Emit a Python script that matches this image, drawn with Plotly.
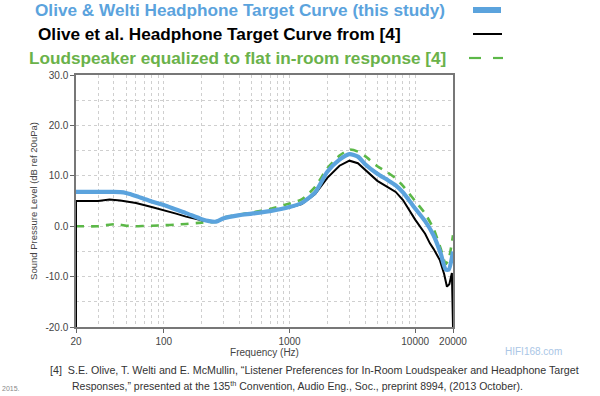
import plotly.graph_objects as go

# ---- data ----
freq = [20, 30, 40, 45, 50, 55, 60, 70, 80, 100, 125, 150, 200, 230, 260, 300, 400, 500, 700,
        1000, 1250, 1600, 2000, 2500, 3000, 3500, 4000, 5000, 6000, 7000, 8000,
        10000, 12000, 14000, 16000, 17500, 18500, 20000]

olive_welti = [6.8, 6.8, 6.8, 6.75, 6.6, 6.3, 6.0, 5.4, 4.9, 4.2, 3.3, 2.6, 1.4, 1.0, 0.9, 1.6, 2.2, 2.5, 3.0,
               3.8, 4.6, 6.7, 10.8, 13.2, 14.3, 13.8, 12.3, 10.4, 9.2, 8.1, 6.7,
               3.5, 1.0, -1.8, -5.5, -8.6, -8.6, -5.0]

black_freq = [20, 20, 30, 37, 45, 60, 80, 100, 125, 150, 200, 250, 300, 400, 500, 700,
              1000, 1250, 1600, 2000, 2500, 3000, 3500, 4000, 5000, 6000, 7000, 8000,
              10000, 12000, 13100, 14000, 15700, 17000, 17900, 18700, 19600, 20000]
olive_2013 = [-20.0, 5.0, 5.0, 5.3, 5.1, 4.6, 3.8, 3.2, 2.5, 1.9, 1.2, 0.85, 1.6, 2.2, 2.5, 3.0,
              3.7, 4.4, 6.4, 9.6, 12.0, 13.0, 12.5, 11.2, 9.0, 7.8, 6.8, 5.2,
              1.3, -1.5, -3.4, -4.5, -6.7, -9.5, -12.0, -11.5, -9.3, -20.0]

loudspeaker = [0.0, 0.0, 0.4, 0.3, 0.1, 0.05, 0.0, 0.05, 0.1, 0.2, 0.3, 0.45, 0.7, 0.8, 0.9, 1.7, 2.3, 2.7, 3.4,
               4.5, 5.3, 7.8, 11.5, 14.0, 15.2, 14.8, 13.9, 11.9, 10.7, 9.5, 8.0,
               5.0, 2.5, -0.5, -4.5, -7.5, -6.5, -1.8]

x_tick_vals = [20, 100, 1000, 10000, 20000]
x_tick_text = ["20", "100", "1000", "10000", "20000"]
y_tick_vals = [30, 20, 10, 0, -10, -20]
y_tick_text = ["30.0", "20.0", "10.0", "0.0", "-10.0", "-20.0"]

legend_labels = ["Olive & Welti Headphone Target Curve (this study)",
                 "Olive et al. Headphone Target Curve from [4]",
                 "Loudspeaker equalized to flat in-room response [4]"]

BLUE = "#5ba3dd"
BLACK = "#000000"
GREEN = "#5cb848"
GREEN_TXT = "#6ab24a"
GRID = "#cfcfcf"

W, H = 600, 396
L, R, T, B = 76, 453, 75, 327


def px(x):
    return (x - L) / (R - L)


def py(y):
    return (B - y) / (B - T)


fig = go.Figure()
fig.add_trace(go.Scatter(x=freq, y=loudspeaker, mode="lines",
                         line=dict(color=GREEN, width=2.6, dash="8px,7px", shape="spline", smoothing=0.6),
                         name=legend_labels[2], showlegend=False))
fig.add_trace(go.Scatter(x=black_freq, y=olive_2013, mode="lines",
                         line=dict(color=BLACK, width=2),
                         name=legend_labels[1], showlegend=False))
fig.add_trace(go.Scatter(x=freq, y=olive_welti, mode="lines",
                         line=dict(color=BLUE, width=4.2, shape="spline", smoothing=0.6),
                         name=legend_labels[0], showlegend=False))

# minor log gridlines
minor = []
for dec in [10, 100, 1000]:
    for m in range(2, 10):
        v = m * dec
        if 20 < v < 20000:
            minor.append(v)

fig.update_xaxes(type="log", range=[1.30103, 4.30103], automargin=False,
                 tickvals=x_tick_vals, ticktext=x_tick_text,
                 ticks="outside", ticklen=4, tickcolor="#666",
                 showgrid=True, gridcolor=GRID, griddash="dot", gridwidth=1, zeroline=False,
                 minor=dict(tickvals=minor, showgrid=True, gridcolor=GRID,
                            griddash="dot", gridwidth=1, ticks=""),
                 showline=True, linecolor="#777", linewidth=1.5, mirror=True,
                 tickfont=dict(family="Liberation Sans", size=10, color="#444"),
                 title=dict(text="Frequency (Hz)", standoff=0,
                            font=dict(family="Liberation Sans", size=10, color="#444")))
fig.update_yaxes(range=[-20, 30], tickvals=y_tick_vals, ticktext=y_tick_text, automargin=False,
                 ticks="outside", ticklen=4, tickcolor="#666",
                 showgrid=True, gridcolor=GRID, griddash="dot", gridwidth=1,
                 minor=dict(dtick=5, showgrid=True, gridcolor=GRID,
                            griddash="dot", gridwidth=1, ticks=""),
                 zeroline=False,
                 showline=True, linecolor="#777", linewidth=1.5, mirror=True,
                 tickfont=dict(family="Liberation Sans", size=10, color="#444"),
                 title=dict(text="Sound Pressure Level (dB ref 20uPa)", standoff=6,
                            font=dict(family="Liberation Sans", size=9.5, color="#444")))

# legend text lines (symbols on the right, as in the original)
leg_y = [9.5, 34.5, 57.5]
leg_x = [33, 36, 27]
leg_col = [BLUE, BLACK, GREEN_TXT]
ann = []
for lab, xx, yy, cc in zip(legend_labels, leg_x, leg_y, leg_col):
    ann.append(dict(text="<b>" + lab + "</b>", x=px(xx), y=py(yy), xref="paper", yref="paper",
                    xanchor="left", yanchor="middle", showarrow=False,
                    font=dict(family="Liberation Sans", size=17.2, color=cc)))

ann.append(dict(text="[4]  S.E. Olive, T. Welti and E. McMullin, \u201cListener Preferences for In-Room Loudspeaker and Headphone Target",
                x=px(48), y=py(370), xref="paper", yref="paper", xanchor="left", yanchor="middle",
                showarrow=False, font=dict(family="Liberation Sans", size=10.7, color="#333")))
ann.append(dict(text="Responses,\u201d presented at the 135<sup>th</sup> Convention, Audio Eng., Soc., preprint 8994, (2013 October).",
                x=px(70), y=py(385), xref="paper", yref="paper", xanchor="left", yanchor="middle",
                showarrow=False, font=dict(family="Liberation Sans", size=10.5, color="#333")))
ann.append(dict(text="2015.", x=px(0), y=py(388), xref="paper", yref="paper", xanchor="left",
                yanchor="middle", showarrow=False,
                font=dict(family="Liberation Sans", size=7, color="#888")))
ann.append(dict(text="HIFI168.com", x=px(503), y=py(351), xref="paper", yref="paper", xanchor="left",
                yanchor="middle", showarrow=False,
                font=dict(family="Liberation Sans", size=10, color="#aac6e6")))

shapes = [
    dict(type="rect", xref="paper", yref="paper", x0=px(473), x1=px(501), y0=py(13), y1=py(7),
         fillcolor=BLUE, line=dict(width=0)),
    dict(type="line", xref="paper", yref="paper", x0=px(473), x1=px(502), y0=py(34), y1=py(34),
         line=dict(color=BLACK, width=2)),
    dict(type="line", xref="paper", yref="paper", x0=px(469), x1=px(481), y0=py(58), y1=py(58),
         line=dict(color=GREEN, width=2.2)),
    dict(type="line", xref="paper", yref="paper", x0=px(493), x1=px(503), y0=py(58), y1=py(58),
         line=dict(color=GREEN, width=2.2)),
]

fig.update_layout(width=W, height=H, margin=dict(l=L, r=W - R, t=T, b=H - B),
                  paper_bgcolor="white", plot_bgcolor="white",
                  annotations=ann, shapes=shapes, showlegend=False)

fig.write_html("out.html", config={"displayModeBar": False},
               post_script="document.body.style.margin='0';document.body.style.overflow='hidden';")
